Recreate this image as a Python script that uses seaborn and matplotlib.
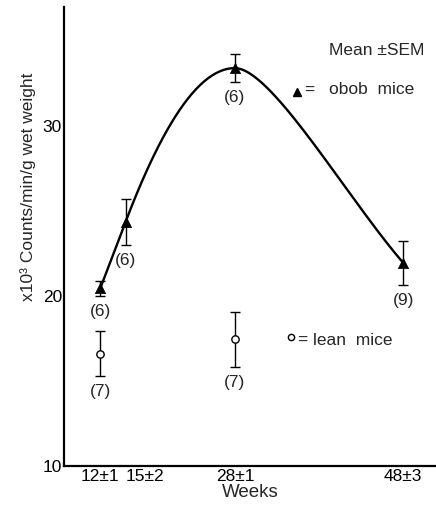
import numpy as np
import pandas as pd
import matplotlib
matplotlib.use("Agg")
import matplotlib.pyplot as plt
import seaborn as sns

# Age groups (weeks) and their tick labels
weeks = [12, 15, 28, 48]
week_labels = ["12±1", "15±2", "28±1", "48±3"]

# obob mice: mean, SEM and group size
obob_weeks = [12, 15, 28, 48]
obob_mean = [20.45, 24.35, 33.4, 21.95]
obob_sem = [0.45, 1.35, 0.82, 1.3]
obob_n = [6, 6, 6, 9]

# lean mice: mean, SEM and group size
lean_weeks = [12, 28]
lean_mean = [16.6, 17.45]
lean_sem = [1.32, 1.62]
lean_n = [7, 7]

y_ticks = [10, 20, 30]

FONT = ["Liberation Sans", "DejaVu Sans"]
FS = 12.5

sns.set_theme(style="white")
plt.rcParams["font.family"] = FONT
plt.rcParams["font.size"] = FS


def smooth_curve(xs, ys, n=80):
    """Piecewise cubic Bezier through the points, flat at the turning point."""
    xs = np.asarray(xs, float)
    ys = np.asarray(ys, float)
    h = np.diff(xs)
    sec = np.diff(ys) / h
    slope = np.empty_like(ys)
    slope[0] = sec[0]
    slope[1:] = sec
    reach_out = h / 3.0
    reach_in = h / 3.0
    for i in range(1, len(xs) - 1):
        if sec[i - 1] * sec[i] <= 0:
            slope[i] = 0.0
            r = min(h[i - 1], h[i]) / 3.0
            reach_in[i - 1] = r
            reach_out[i] = r
    t = np.linspace(0, 1, n)[:, None]
    out = []
    for i in range(len(h)):
        p0 = np.array([xs[i], ys[i]])
        p3 = np.array([xs[i + 1], ys[i + 1]])
        p1 = p0 + reach_out[i] * np.array([1.0, slope[i]])
        p2 = p3 - reach_in[i] * np.array([1.0, slope[i + 1]])
        seg = ((1 - t) ** 3) * p0 + 3 * ((1 - t) ** 2) * t * p1 \
            + 3 * (1 - t) * t ** 2 * p2 + t ** 3 * p3
        out.append(seg if i == 0 else seg[1:])
    pts = np.vstack(out)
    return pts[:, 0], pts[:, 1]


fig = plt.figure(figsize=(4.36, 5.13), dpi=100)
ax = fig.add_axes([0.147, 0.0916, 0.853, 0.895])

# trend curve for obob mice
cx, cy = smooth_curve(obob_weeks, obob_mean)
curve = pd.DataFrame({"week": cx, "counts": cy})
sns.lineplot(data=curve, x="week", y="counts", sort=False, estimator=None,
             color="black", linewidth=1.7, ax=ax)

# error bars
ax.errorbar(obob_weeks, obob_mean, yerr=obob_sem, fmt="none", ecolor="black",
            elinewidth=1.0, capsize=3.8, capthick=1.0, zorder=3)
ax.errorbar(lean_weeks, lean_mean, yerr=lean_sem, fmt="none", ecolor="black",
            elinewidth=1.0, capsize=3.8, capthick=1.0, zorder=3)

# group means
obob = pd.DataFrame({"week": obob_weeks, "counts": obob_mean})
lean = pd.DataFrame({"week": lean_weeks, "counts": lean_mean})
sns.scatterplot(data=obob, x="week", y="counts", marker="^", s=55,
                color="black", edgecolor="black", linewidth=0.5, zorder=4, ax=ax)
sns.scatterplot(data=lean, x="week", y="counts", marker="o", s=28,
                facecolor="white", edgecolor="black", linewidth=1.0, zorder=4, ax=ax)

# group sizes beneath each error bar
for w, m, s, n in zip(obob_weeks, obob_mean, obob_sem, obob_n):
    ax.annotate(f"({n})", xy=(w, m - s), xytext=(0, -11), textcoords="offset points",
                ha="center", va="center", fontsize=FS)
for w, m, s, n in zip(lean_weeks, lean_mean, lean_sem, lean_n):
    ax.annotate(f"({n})", xy=(w, m - s), xytext=(0, -11), textcoords="offset points",
                ha="center", va="center", fontsize=FS)

# key
ax.text(0.712, 0.906, "Mean ±SEM", transform=ax.transAxes, ha="left", va="center", fontsize=FS)
ax.plot([0.626], [0.815], marker="^", ms=6, color="black", transform=ax.transAxes, clip_on=False)
ax.text(0.645, 0.818, "=", transform=ax.transAxes, ha="left", va="center", fontsize=FS)
ax.text(0.712, 0.821, "obob  mice", transform=ax.transAxes, ha="left", va="center", fontsize=FS)
ax.plot([0.610], [0.280], marker="o", ms=4.5, mfc="white", mec="black", mew=1.0,
        transform=ax.transAxes, clip_on=False)
ax.text(0.627, 0.274, "=", transform=ax.transAxes, ha="left", va="center", fontsize=FS)
ax.text(0.670, 0.274, "lean  mice", transform=ax.transAxes, ha="left", va="center", fontsize=FS)

# axes
ax.set_xlim(7.7, 51.9)
ax.set_ylim(10, 37)
ax.set_xticks(weeks)
ax.set_xticklabels(week_labels)
ax.set_yticks(y_ticks)
ax.tick_params(axis="both", direction="in", length=11, width=1.0, color="black",
               labelsize=FS, labelcolor="black")
ax.tick_params(axis="x", pad=2)
ax.tick_params(axis="y", pad=1.5)
# the 15-week label sits just right of its tick, clear of its neighbour
ax.get_xticklabels()[1].set_horizontalalignment("left")
sns.despine(ax=ax)
for side in ("left", "bottom"):
    ax.spines[side].set_color("black")
    ax.spines[side].set_linewidth(1.6)

ax.set_xlabel("Weeks", fontsize=13.5, labelpad=0.5)
ax.set_ylabel("x10³ Counts/min/g wet weight", fontsize=FS, va="center")
ax.yaxis.set_label_coords(-0.097, 0.608)
ax.grid(False)

fig.savefig("out.png", dpi=100, facecolor="white")
